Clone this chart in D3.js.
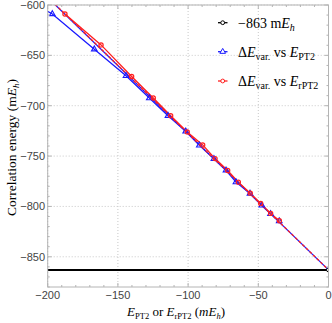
<!DOCTYPE html>
<html><head><meta charset="utf-8">
<script src="https://cdn.jsdelivr.net/npm/d3@7"></script>
<style>body{margin:0;background:#fff}svg{display:block}</style>
</head><body><svg id="c" width="332" height="323"></svg>
<script>
// ---- data ----
const xTicks = [-200, -150, -100, -50, 0];
const yTicks = [-850, -800, -750, -700, -650, -600];
const refEnergy = -863;
const refX = [-200, 0];
const bluePT2X = [-203, -196.7, -166.8, -144.2, -127.6, -114.3, -101.7, -92.0, -81.6, -73.0, -65.9, -55.9, -47.5, -41.3, -35.1];
const bluePT2Y = [-604, -608.9, -643.9, -670.3, -692.4, -709.9, -725.4, -739.3, -752.8, -764.1, -775.9, -787.1, -799.0, -807.4, -814.6];
const blueMarked = [false, true, true, true, true, true, true, true, true, true, true, true, true, true, true];
const redRPT2X = [-187.7, -162.0, -140.2, -124.8, -112.4, -100.6, -89.6, -80.8, -71.8, -64.2, -55.7, -48.3, -41.2, -35.0];
const redRPT2Y = [-608.9, -639.6, -671.0, -692.4, -709.9, -726.0, -738.9, -752.5, -764.4, -775.9, -786.8, -797.0, -806.9, -814.2];
const fitX = [-200, 0];
const blueFitY = [-592.6, -863];
const redFitY = [-592.2, -863];

// ---- layout ----
const svg = d3.select("#c");
const L = 47.7, R = 328.5, T = 5, B = 287;
const x = d3.scaleLinear().domain([-200, 0]).range([L, R]);
const y = d3.scaleLinear().domain([-880, -600]).range([B, T]);
const minus = v => (v < 0 ? "\u2212" + Math.abs(v) : String(v));

// grid
const g = svg.append("g");
g.selectAll("line.gx").data(xTicks).join("line")
  .attr("x1", d => x(d)).attr("x2", d => x(d)).attr("y1", T).attr("y2", B)
  .attr("stroke", "#c8c8c8").attr("stroke-width", 1).attr("stroke-dasharray", "1,2");
g.selectAll("line.gy").data(yTicks).join("line")
  .attr("y1", d => y(d)).attr("y2", d => y(d)).attr("x1", L).attr("x2", R)
  .attr("stroke", "#c8c8c8").attr("stroke-width", 1).attr("stroke-dasharray", "1,2");

// clip
svg.append("clipPath").attr("id", "clip").append("rect")
  .attr("x", L).attr("y", T).attr("width", R - L).attr("height", B - T);
const plot = svg.append("g").attr("clip-path", "url(#clip)");

const line = d3.line().x(d => x(d[0])).y(d => y(d[1]));

// reference line
plot.append("path").datum(refX.map(v => [v, refEnergy])).attr("d", line)
  .attr("stroke", "#000").attr("stroke-width", 2).attr("fill", "none");

// blue fit (solid)
plot.append("path").datum(fitX.map((v, i) => [v, blueFitY[i]])).attr("d", line)
  .attr("stroke", "#1a1aff").attr("stroke-width", 1.3).attr("fill", "none");
// blue data
const blueData = bluePT2X.map((v, i) => [v, bluePT2Y[i], blueMarked[i]]);
plot.append("path").datum(blueData).attr("d", line)
  .attr("stroke", "#1a1aff").attr("stroke-width", 1.3).attr("fill", "none");

// red data
const redData = redRPT2X.map((v, i) => [v, redRPT2Y[i]]);
plot.append("path").datum(redData).attr("d", line)
  .attr("stroke", "#ff2020").attr("stroke-width", 1.3).attr("fill", "none");
// red fit (dashed)
plot.append("path").datum(fitX.map((v, i) => [v, redFitY[i]])).attr("d", line)
  .attr("stroke", "#ff2020").attr("stroke-width", 1.3).attr("fill", "none")
  .attr("stroke-dasharray", "3,2");

const tri = d3.symbol().type(d3.symbolTriangle).size(14);
plot.selectAll("path.bm").data(blueData.filter(d => d[2])).join("path")
  .attr("d", tri).attr("transform", d => `translate(${x(d[0])},${y(d[1])})`)
  .attr("fill", "none").attr("stroke", "#1a1aff").attr("stroke-width", 1.1);
plot.selectAll("circle.rm").data(redData).join("circle")
  .attr("cx", d => x(d[0])).attr("cy", d => y(d[1])).attr("r", 2.1)
  .attr("fill", "none").attr("stroke", "#ff2020").attr("stroke-width", 1.2);
plot.append("circle").attr("cx", x(0)).attr("cy", y(refEnergy)).attr("r", 2)
  .attr("fill", "#fff").attr("stroke", "#000").attr("stroke-width", 1);

// frame
svg.append("rect").attr("x", L).attr("y", T).attr("width", R - L).attr("height", B - T)
  .attr("fill", "none").attr("stroke", "#b4b4b4").attr("stroke-width", 1);

// ticks (inside)
const xMinor = d3.range(-200, 1, 10), yMinor = d3.range(-880, -599, 10);
const tk = svg.append("g").attr("stroke", "#b4b4b4").attr("stroke-width", 1);
xMinor.forEach(v => {
  const len = xTicks.includes(v) ? 4 : 2;
  tk.append("line").attr("x1", x(v)).attr("x2", x(v)).attr("y1", B).attr("y2", B - len);
  tk.append("line").attr("x1", x(v)).attr("x2", x(v)).attr("y1", T).attr("y2", T + len);
});
yMinor.forEach(v => {
  const len = yTicks.includes(v) ? 4 : 2;
  tk.append("line").attr("y1", y(v)).attr("y2", y(v)).attr("x1", L).attr("x2", L + len);
  tk.append("line").attr("y1", y(v)).attr("y2", y(v)).attr("x1", R).attr("x2", R - len);
});

// tick labels
const tf = "'Liberation Sans', Arial, sans-serif";
svg.selectAll("text.xl").data(xTicks).join("text")
  .attr("x", d => x(d)).attr("y", 299).attr("text-anchor", "middle")
  .attr("font-family", tf).attr("font-size", 11).attr("fill", "#444").text(minus);
svg.selectAll("text.yl").data(yTicks).join("text")
  .attr("x", 45).attr("y", d => y(d) + 4).attr("text-anchor", "end")
  .attr("font-family", tf).attr("font-size", 11).attr("fill", "#444").text(minus);

// axis titles
const sf = "'Liberation Serif', 'Times New Roman', serif";
const xt = svg.append("text").attr("x", 176).attr("y", 316).attr("text-anchor", "middle")
  .attr("font-family", sf).attr("font-size", 13).attr("fill", "#000");
xt.append("tspan").attr("font-style", "italic").text("E");
xt.append("tspan").attr("font-size", 8.5).attr("dy", 3).text("PT2");
xt.append("tspan").attr("dy", -3).text(" or ");
xt.append("tspan").attr("font-style", "italic").text("E");
xt.append("tspan").attr("font-size", 8.5).attr("dy", 3).text("rPT2");
xt.append("tspan").attr("dy", -3).text(" (");
xt.append("tspan").attr("font-style", "italic").text("mE");
xt.append("tspan").attr("font-style", "italic").attr("font-size", 8.5).attr("dy", 3).text("h");
xt.append("tspan").attr("dy", -3).text(")");

const yt = svg.append("text").attr("transform", "translate(16,147.5) rotate(-90)")
  .attr("text-anchor", "middle").attr("font-family", sf).attr("font-size", 13.5).attr("fill", "#000");
yt.append("tspan").text("Correlation energy (m");
yt.append("tspan").attr("font-style", "italic").text("E");
yt.append("tspan").attr("font-style", "italic").attr("font-size", 9).attr("dy", 3).text("h");
yt.append("tspan").attr("dy", -3).text(")");

// legend
const lg = svg.append("g").attr("font-family", sf).attr("font-size", 14).attr("fill", "#000");
const rows = [22.7, 51.7, 81];
const colors = ["#000", "#1a1aff", "#ff2020"];
rows.forEach((ry, i) => {
  lg.append("line").attr("x1", 218).attr("x2", 227.5).attr("y1", ry).attr("y2", ry)
    .attr("stroke", colors[i]).attr("stroke-width", 1.3);
  if (i === 1) {
    lg.append("path").attr("d", d3.symbol().type(d3.symbolTriangle).size(14))
      .attr("transform", `translate(222.7,${ry})`).attr("fill", "#fff").attr("stroke", colors[i]);
  } else {
    lg.append("circle").attr("cx", 222.7).attr("cy", ry).attr("r", 1.9)
      .attr("fill", "#fff").attr("stroke", colors[i]);
  }
});
const t1 = lg.append("text").attr("x", 238).attr("y", rows[0] + 5);
t1.append("tspan").text("\u2212863 m");
t1.append("tspan").attr("font-style", "italic").text("E");
t1.append("tspan").attr("font-style", "italic").attr("font-size", 10).attr("dy", 3).text("h");
function dLabel(ry, sub) {
  const t = lg.append("text").attr("x", 238).attr("y", ry + 5);
  t.append("tspan").text("\u0394");
  t.append("tspan").attr("font-style", "italic").text("E");
  t.append("tspan").attr("font-size", 10).attr("dy", 3).text("var.");
  t.append("tspan").attr("dy", -3).text(" vs ");
  t.append("tspan").attr("font-style", "italic").text("E");
  t.append("tspan").attr("font-size", 10).attr("dy", 3).text(sub);
}
dLabel(rows[1], "PT2");
dLabel(rows[2], "rPT2");
</script></body></html>
